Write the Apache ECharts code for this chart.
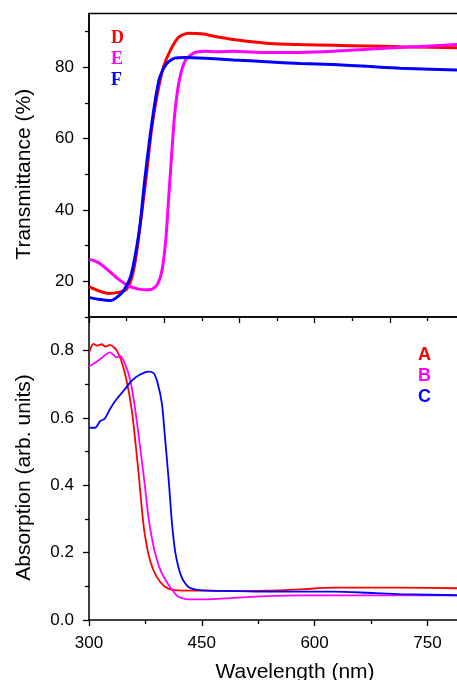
<!DOCTYPE html>
<html>
<head>
<meta charset="utf-8">
<script src="https://cdn.jsdelivr.net/npm/echarts@6/dist/echarts.min.js"></script>
<style>
  html, body { margin: 0; padding: 0; background: #fff; }
  #chart { width: 457px; height: 680px; }
</style>
</head>
<body>
<div id="chart"></div>
<script>
// ---------- Data ----------
// Top panel: Transmittance (%) vs wavelength (nm)
const D_nm = [300, 312, 326, 339, 350, 357, 363, 370, 377, 383, 390, 399, 408, 419, 432, 450, 470, 492, 536, 581, 625, 670, 714, 800];
const D_T  = [18.5, 17.4, 16.6, 16.9, 17.8, 21.1, 27.6, 38.9, 51, 62.2, 71.5, 80, 84.6, 88.3, 89.5, 89.3, 88.5, 87.7, 86.7, 86.3, 86.1, 85.9, 85.7, 85.4];

const E_nm = [300, 312, 326, 339, 352, 366, 381, 390, 397, 402, 406, 410, 414, 420, 428, 439, 454, 470, 492, 536, 581, 625, 670, 714, 800];
const E_T  = [26.2, 25.3, 23, 20.6, 18.8, 17.8, 17.6, 18.8, 23, 31.4, 43.5, 55.7, 66.9, 76.2, 81.8, 83.9, 84.4, 84.3, 84.4, 84.1, 84.1, 84.4, 85.0, 85.5, 86.4];

const F_nm = [300, 312, 328, 337, 346, 355, 361, 368, 374, 381, 388, 394, 403, 414, 428, 454, 492, 536, 581, 625, 670, 714, 800];
const F_T  = [15.5, 15.0, 14.6, 15.5, 17.4, 21.1, 26.7, 36, 48.2, 60.3, 70.6, 77.1, 80.9, 82.5, 82.7, 82.5, 82.0, 81.5, 81.0, 80.7, 80.2, 79.7, 79.1];

// Bottom panel: Absorption (arb. units) vs wavelength (nm)
const A_nm = [300, 303, 306, 311, 317, 322, 328, 333, 337, 343, 350, 357, 361, 366, 370, 374, 381, 390, 401, 414, 454, 492, 536, 581, 625, 670, 714, 800];
const A_v  = [0.792, 0.812, 0.820, 0.815, 0.819, 0.812, 0.817, 0.810, 0.800, 0.770, 0.711, 0.622, 0.543, 0.435, 0.336, 0.257, 0.178, 0.128, 0.099, 0.089, 0.087, 0.086, 0.087, 0.091, 0.096, 0.096, 0.096, 0.094];

const B_nm = [300, 312, 328, 337, 341, 348, 355, 361, 368, 374, 379, 386, 395, 406, 419, 437, 454, 492, 536, 581, 625, 670, 714, 800];
const B_v  = [0.753, 0.770, 0.795, 0.780, 0.785, 0.760, 0.711, 0.632, 0.513, 0.405, 0.306, 0.217, 0.148, 0.104, 0.069, 0.061, 0.061, 0.066, 0.071, 0.073, 0.073, 0.073, 0.073, 0.073];

const C_nm = [300, 308, 315, 321, 328, 337, 346, 357, 368, 379, 386, 391, 397, 401, 406, 410, 415, 423, 432, 446, 492, 536, 581, 625, 670, 714, 800];
const C_v  = [0.571, 0.571, 0.591, 0.598, 0.627, 0.657, 0.681, 0.711, 0.729, 0.738, 0.733, 0.706, 0.642, 0.543, 0.415, 0.296, 0.198, 0.128, 0.099, 0.089, 0.086, 0.084, 0.084, 0.084, 0.081, 0.077, 0.073];

// Tick values / labels
const topXMajor = [300, 400, 500, 600, 700, 800];
const topXMinor = [350, 450, 550, 650, 750];
const botXMajor = [300, 450, 600, 750];
const botXMinor = [375, 525, 675];
const topYMajor = [20, 40, 60, 80];
const topYMinor = [10, 30, 50, 70, 90];
const botYMajor = [0, 0.2, 0.4, 0.6, 0.8];
const botYMinor = [0.1, 0.3, 0.5, 0.7];

const topLabels = ['D', 'E', 'F'];
const botLabels = ['A', 'B', 'C'];
const colors = ['#ff0000', '#ff00ff', '#0000ff'];

// ---------- Chart ----------
const FONT = '"Liberation Sans", Arial, Helvetica, sans-serif';
const pairs = (xs, ys) => xs.map((x, i) => [x, ys[i]]);

function axis(kind, gridIndex, min, max, ticks, tickLen, opts) {
  const a = {
    type: 'value', gridIndex, min, max,
    splitLine: { show: false },
    axisLine: { show: opts.line, onZero: false, lineStyle: { color: '#000', width: 1.5 } },
    axisTick: { show: true, inside: false, length: tickLen, customValues: ticks, lineStyle: { color: '#000', width: 1.3 } },
    axisLabel: { show: false }
  };
  if (kind === 'x') a.position = 'bottom'; else a.position = 'left';
  if (opts.labels) {
    a.axisLabel = {
      show: true, customValues: opts.labels, color: '#000', fontSize: 17, fontFamily: FONT,
      margin: opts.margin, formatter: opts.fmt || (v => String(v))
    };
  }
  if (opts.name) {
    a.name = opts.name;
    a.nameLocation = 'middle';
    a.nameGap = opts.nameGap;
    a.nameTextStyle = { color: '#000', fontSize: 21, fontFamily: FONT, padding: opts.namePad || 0 };
  }
  return a;
}

const option = {
  animation: false,
  backgroundColor: '#fff',
  grid: [
    { left: 89, top: 13.5, width: 376, height: 303.5, show: true, borderColor: '#000', borderWidth: 1.5, backgroundColor: 'transparent', containLabel: false, outerBoundsMode: 'none' },
    { left: 89, top: 317, width: 376, height: 303, containLabel: false, outerBoundsMode: 'none' }
  ],
  xAxis: [
    axis('x', 0, 300, 800, topXMajor, 6, { line: true }),
    axis('x', 0, 300, 800, topXMinor, 4, { line: false }),
    axis('x', 1, 300, 800, botXMajor, 6, { line: true, labels: botXMajor, margin: 15, name: 'Wavelength (nm)', nameGap: 42, namePad: [0, 0, 0, 36] }),
    axis('x', 1, 300, 800, botXMinor, 4, { line: false })
  ],
  yAxis: [
    axis('y', 0, 10, 95, topYMajor, 6, { line: true, labels: topYMajor, margin: 15, name: 'Transmittance (%)', nameGap: 54, namePad: [0, 18, 0, 0] }),
    axis('y', 0, 10, 95, topYMinor, 4, { line: false }),
    axis('y', 1, 0, 0.9, botYMajor, 6, { line: true, labels: botYMajor, margin: 15, fmt: v => Number(v).toFixed(1), name: 'Absorption (arb. units)', nameGap: 54, namePad: [0, 18, 0, 0] }),
    axis('y', 1, 0, 0.9, botYMinor, 4, { line: false })
  ],
  series: [
    { name: 'D', type: 'line', xAxisIndex: 0, yAxisIndex: 0, data: pairs(D_nm, D_T), color: colors[0] },
    { name: 'E', type: 'line', xAxisIndex: 0, yAxisIndex: 0, data: pairs(E_nm, E_T), color: colors[1] },
    { name: 'F', type: 'line', xAxisIndex: 0, yAxisIndex: 0, data: pairs(F_nm, F_T), color: colors[2] },
    { name: 'A', type: 'line', xAxisIndex: 2, yAxisIndex: 2, data: pairs(A_nm, A_v), color: colors[0] },
    { name: 'B', type: 'line', xAxisIndex: 2, yAxisIndex: 2, data: pairs(B_nm, B_v), color: colors[1] },
    { name: 'C', type: 'line', xAxisIndex: 2, yAxisIndex: 2, data: pairs(C_nm, C_v), color: colors[2] }
  ].map((s, i) => Object.assign(s, {
    showSymbol: false, smooth: 0.25, silent: true,
    lineStyle: { width: i < 3 ? 3 : 1.8, color: s.color }
  })),
  graphic: [
    ...topLabels.map((t, i) => ({
      type: 'text', left: 111, top: 29 + i * 21,
      style: { text: t, fill: colors[i], font: 'bold 18px "Liberation Serif", "Times New Roman", serif' }
    })),
    ...botLabels.map((t, i) => ({
      type: 'text', left: 418, top: 346 + i * 21,
      style: { text: t, fill: colors[i], font: 'bold 18px "Liberation Sans", Arial, sans-serif' }
    }))
  ]
};

const chart = echarts.init(document.getElementById('chart'), null, { renderer: 'canvas' });
chart.setOption(option);
</script>
</body>
</html>
